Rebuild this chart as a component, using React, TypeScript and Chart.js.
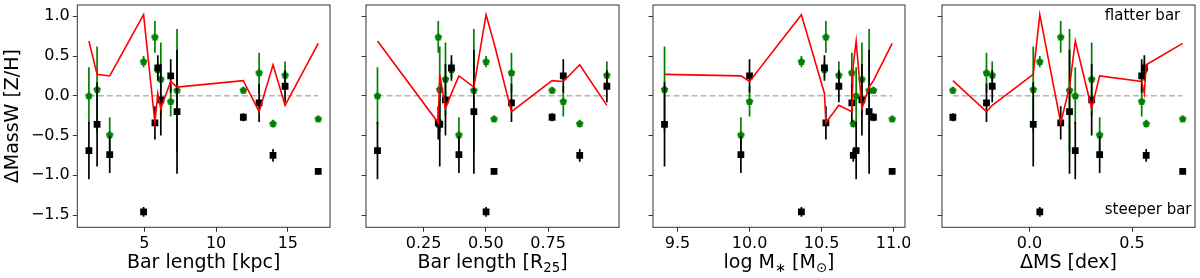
import React, { useEffect, useRef } from 'react';
import { Chart, registerables } from 'chart.js';

Chart.register(...registerables);

// ---- data (one entry per galaxy, same order in every array) ----
const barKpc = [1.14, 1.71, 2.59, 4.95, 5.74, 5.94, 6.15, 6.84, 7.28, 11.9, 13.0, 13.97, 14.81, 17.12];
const barR25 = [0.065, 0.315, 0.392, 0.501, 0.309, 0.362, 0.338, 0.811, 0.452, 0.766, 0.603, 0.877, 0.986, 0.533];
const logMass = [10.74, 9.41, 9.94, 10.36, 10.53, 10.52, 10.78, 10.0, 10.83, 10.86, 10.71, 10.72, 10.62, 10.99];
const deltaMS = [0.223, 0.018, 0.342, 0.05, 0.152, 0.56, 0.303, 0.547, 0.195, -0.374, -0.21, 0.569, -0.182, 0.747];

const steeperBar = [-0.69, -0.36, -0.74, -1.46, -0.34, 0.35, -0.05, 0.25, -0.2, -0.27, -0.09, -0.75, 0.12, -0.95];
const steeperErr = [0.36, 0.53, 0.23, 0.06, 0.21, 0.16, 0.45, 0.21, 0.78, 0.05, 0.24, 0.08, 0.2, 0.04];
const flatterBar = [0.0, 0.08, -0.49, 0.43, 0.74, 0.33, 0.21, -0.07, 0.07, 0.07, 0.29, -0.35, 0.26, -0.29];
const flatterErr = [0.36, 0.54, 0.22, 0.07, 0.2, 0.1, 0.46, 0.19, 0.77, 0.04, 0.25, 0.05, 0.17, 0.03];
const gradientDiff = [0.69, 0.27, 0.25, 1.02, -0.34, 0.03, -0.16, 0.18, 0.11, 0.19, -0.2, 0.39, -0.12, 0.66];

const yTicks = [-1.5, -1.0, -0.5, 0.0, 0.5, 1.0];
const yTickLabels = ['\u22121.5', '\u22121.0', '\u22120.5', '0.0', '0.5', '1.0'];
const kpcTicks = [5, 10, 15];
const kpcTickLabels = ['5', '10', '15'];
const r25Ticks = [0.25, 0.5, 0.75];
const r25TickLabels = ['0.25', '0.50', '0.75'];
const massTicks = [9.5, 10.0, 10.5, 11.0];
const massTickLabels = ['9.5', '10.0', '10.5', '11.0'];
const msTicks = [0.0, 0.5];
const msTickLabels = ['0.0', '0.5'];

const yTitle = [{ t: '\u0394MassW [Z/H]' }];
const kpcTitle = [{ t: 'Bar length [kpc]' }];
const r25Title = [{ t: 'Bar length [R' }, { t: '25', sub: true }, { t: ']' }];
const massTitle = [{ t: 'log M' }, { t: '\u2217', sub: true }, { t: ' [M' }, { t: '\u2299', sub: true }, { t: ']' }];
const msTitle = [{ t: '\u0394MS [dex]' }];
const noteTop = 'flatter bar';
const noteBottom = 'steeper bar';

const Y_MIN = -1.654;
const Y_MAX = 1.142;

type Seg = { t: string; sub?: boolean };

const FONT = '"DejaVu Sans", sans-serif';
const H = 278;
const AREA_TOP = 3.3;
const AREA_BOTTOM = 227.3;

const panels = [
  { xs: barKpc, min: 0.331, max: 17.94, ticks: kpcTicks, labels: kpcTickLabels, title: kpcTitle as Seg[], left: 77.3, right: 332.7, yLabels: true, notes: false },
  { xs: barR25, min: 0.0189, max: 1.0347, ticks: r25Ticks, labels: r25TickLabels, title: r25Title as Seg[], left: 365.7, right: 620.7, yLabels: false, notes: false },
  { xs: logMass, min: 9.33, max: 11.079, ticks: massTicks, labels: massTickLabels, title: massTitle as Seg[], left: 653.3, right: 908.3, yLabels: false, notes: false },
  { xs: deltaMS, min: -0.427, max: 0.807, ticks: msTicks, labels: msTickLabels, title: msTitle as Seg[], left: 941.7, right: 1196.8, yLabels: false, notes: true },
];

function drawRich(ctx: CanvasRenderingContext2D, segs: Seg[], cx: number, baseline: number, size: number, rotate: boolean) {
  const subSize = size * 0.7;
  ctx.save();
  ctx.textBaseline = 'alphabetic';
  ctx.textAlign = 'left';
  const widths = segs.map((s) => {
    ctx.font = `${s.sub ? subSize : size}px ${FONT}`;
    return ctx.measureText(s.t).width;
  });
  const total = widths.reduce((a, b) => a + b, 0);
  if (rotate) {
    ctx.translate(baseline, cx);
    ctx.rotate(-Math.PI / 2);
  } else {
    ctx.translate(cx, baseline);
  }
  let x = -total / 2;
  ctx.fillStyle = '#000';
  segs.forEach((s, i) => {
    ctx.font = `${s.sub ? subSize : size}px ${FONT}`;
    ctx.fillText(s.t, x, s.sub ? size * 0.2 : 0);
    x += widths[i];
  });
  ctx.restore();
}

function makePentagon(color: string, R: number) {
  const size = Math.ceil(2 * R + 3);
  const c = document.createElement('canvas');
  c.width = size;
  c.height = size;
  const g = c.getContext('2d')!;
  g.fillStyle = color;
  g.beginPath();
  for (let k = 0; k < 5; k++) {
    const a = -Math.PI / 2 + (k * 2 * Math.PI) / 5;
    const px = size / 2 + R * Math.cos(a);
    const py = size / 2 + R * Math.sin(a) + 0.3;
    if (k === 0) g.moveTo(px, py);
    else g.lineTo(px, py);
  }
  g.closePath();
  g.fill();
  return c;
}

function Panel({ idx }: { idx: number }) {
  const ref = useRef<HTMLCanvasElement>(null);
  const p = panels[idx];
  const axisW = p.yLabels ? p.left : 10;
  const canvasLeft = p.left - axisW;
  const width = Math.ceil(p.right - canvasLeft) + 2;
  const padRight = width - (p.right - canvasLeft);

  useEffect(() => {
    if (!ref.current) return;
    const pts = (ys: number[]) => p.xs.map((x, i) => ({ x, y: ys[i] }));
    const order = p.xs.map((_, i) => i).sort((a, b) => p.xs[a] - p.xs[b]);
    const redPts = order.map((i) => ({ x: p.xs[i], y: gradientDiff[i] }));
    const xMin = Math.min(...p.xs);
    const xMax = Math.max(...p.xs);

    const decor = {
      id: 'decor' + idx,
      beforeDatasetDraw(chart: any, args: any) {
        const ds: any = chart.data.datasets[args.index];
        if (!ds.errs) return;
        const { ctx, chartArea, scales } = chart;
        ctx.save();
        ctx.beginPath();
        ctx.rect(chartArea.left, chartArea.top, chartArea.right - chartArea.left, chartArea.bottom - chartArea.top);
        ctx.clip();
        ctx.strokeStyle = ds.errColor;
        ctx.lineWidth = 1.7;
        ds.data.forEach((pt: any, i: number) => {
          const x = scales.x.getPixelForValue(pt.x);
          ctx.beginPath();
          ctx.moveTo(x, scales.y.getPixelForValue(pt.y + ds.errs[i]));
          ctx.lineTo(x, scales.y.getPixelForValue(pt.y - ds.errs[i]));
          ctx.stroke();
        });
        ctx.restore();
      },
      afterDraw(chart: any) {
        const { ctx, chartArea } = chart;
        ctx.save();
        ctx.strokeStyle = '#333';
        ctx.lineWidth = 1;
        ctx.strokeRect(chartArea.left, chartArea.top, chartArea.right - chartArea.left, chartArea.bottom - chartArea.top);
        ctx.restore();
        drawRich(ctx, p.title, (chartArea.left + chartArea.right) / 2, 268, 19, false);
        if (p.yLabels) {
          drawRich(ctx, yTitle, (chartArea.top + chartArea.bottom) / 2, 18, 19, true);
        }
        if (p.notes) {
          ctx.save();
          ctx.font = `15px ${FONT}`;
          ctx.fillStyle = '#000';
          ctx.textAlign = 'left';
          ctx.textBaseline = 'alphabetic';
          ctx.fillText(noteTop, chartArea.left + 162.8, 19.5);
          ctx.fillText(noteBottom, chartArea.left + 162.8, 213.5);
          ctx.restore();
        }
      },
    };

    const chart = new Chart(ref.current, {
      type: 'scatter',
      data: {
        datasets: [
          {
            data: redPts,
            showLine: true,
            borderColor: '#f00',
            borderWidth: 1.6,
            pointRadius: 0,
            order: 0,
          } as any,
          {
            data: pts(steeperBar),
            errs: steeperErr,
            errColor: '#000',
            pointStyle: 'rect',
            pointRadius: 4.8,
            borderWidth: 0,
            backgroundColor: '#000',
            borderColor: '#000',
            order: 1,
          } as any,
          {
            data: pts(flatterBar),
            errs: flatterErr,
            errColor: '#008000',
            pointStyle: makePentagon('#008000', 4.0),
            pointRadius: 4,
            backgroundColor: '#008000',
            borderColor: '#008000',
            order: 2,
          } as any,
          {
            data: [{ x: xMin, y: 0 }, { x: xMax, y: 0 }],
            showLine: true,
            borderColor: 'rgba(150,150,150,0.7)',
            borderDash: [6, 3],
            borderWidth: 1.4,
            pointRadius: 0,
            order: 3,
          } as any,
        ],
      },
      options: {
        responsive: false,
        animation: false,
        events: [],
        layout: { padding: { left: 0, right: padRight, top: AREA_TOP, bottom: 0 } },
        plugins: { legend: { display: false }, tooltip: { enabled: false } },
        scales: {
          x: {
            type: 'linear',
            min: p.min,
            max: p.max,
            afterBuildTicks: (s: any) => {
              s.ticks = p.ticks.map((v) => ({ value: v }));
            },
            afterFit: (s: any) => {
              s.height = H - AREA_BOTTOM;
              s.paddingLeft = 0;
              s.paddingRight = 0;
              s.paddingTop = 0;
              s.paddingBottom = 0;
            },
            grid: { drawOnChartArea: false, drawTicks: true, tickLength: 4.5, color: '#333', lineWidth: 1 },
            border: { display: false },
            ticks: {
              autoSkip: false,
              maxRotation: 0,
              padding: 2,
              color: '#000',
              font: { family: FONT, size: 16 },
              callback: (_v: any, i: number) => p.labels[i],
            },
          },
          y: {
            type: 'linear',
            min: Y_MIN,
            max: Y_MAX,
            afterBuildTicks: (s: any) => {
              s.ticks = yTicks.map((v) => ({ value: v }));
            },
            afterFit: (s: any) => {
              s.width = axisW;
              s.paddingLeft = 0;
              s.paddingRight = 0;
              s.paddingTop = 0;
              s.paddingBottom = 0;
            },
            grid: { drawOnChartArea: false, drawTicks: true, tickLength: 4.5, color: '#333', lineWidth: 1 },
            border: { display: false },
            ticks: {
              autoSkip: false,
              padding: 3,
              color: '#000',
              font: { family: FONT, size: 16 },
              callback: (_v: any, i: number) => (p.yLabels ? yTickLabels[i] : ''),
            },
          },
        },
      },
      plugins: [decor as any],
    });
    return () => chart.destroy();
  }, []);

  return (
    <canvas
      ref={ref}
      width={width}
      height={H}
      style={{ position: 'absolute', left: canvasLeft, top: 0, width, height: H, display: 'block' }}
    />
  );
}

export default function App() {
  return (
    <div style={{ position: 'absolute', left: 0, top: 0, width: 1200, height: H, background: '#fff', overflow: 'hidden' }}>
      {panels.map((_, i) => (
        <Panel key={i} idx={i} />
      ))}
    </div>
  );
}
